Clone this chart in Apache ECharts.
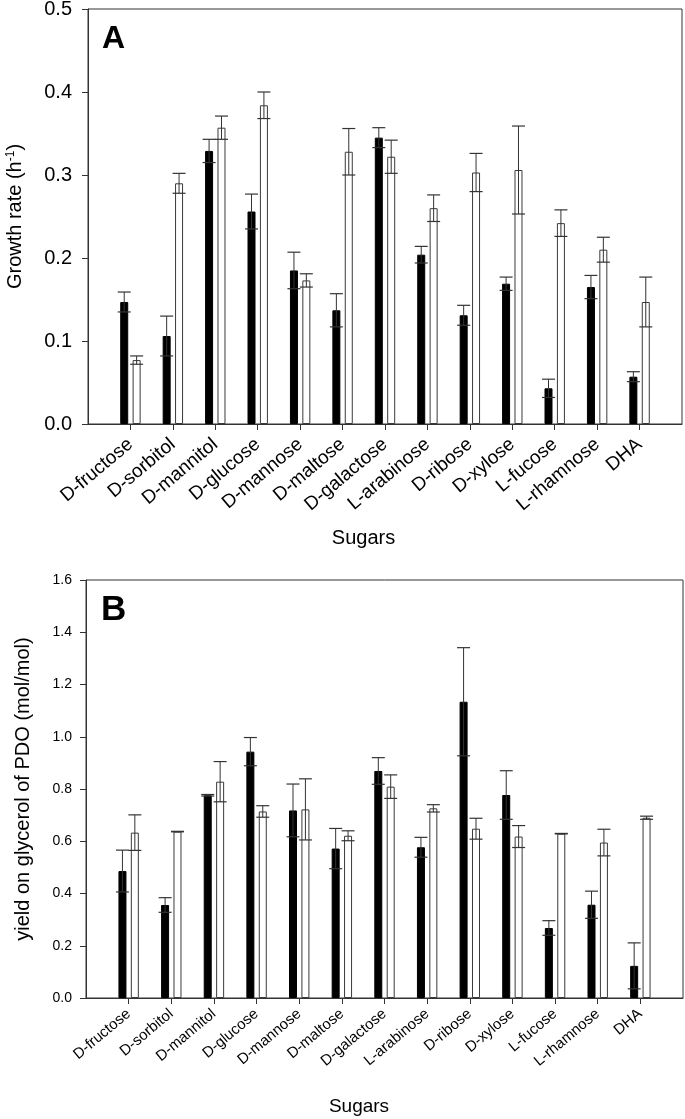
<!DOCTYPE html>
<html><head><meta charset="utf-8">
<script src="https://cdn.jsdelivr.net/npm/echarts@6/dist/echarts.min.js"></script>
<style>html,body{margin:0;padding:0;background:#fff}#c{width:685px;height:1119px}</style>
</head><body><div id="c"></div>
<script>
// ---- data ----
const categories = ['D-fructose','D-sorbitol','D-mannitol','D-glucose','D-mannose','D-maltose','D-galactose','L-arabinose','D-ribose','D-xylose','L-fucose','L-rhamnose','DHA'];

const growthBlack    = [0.147, 0.106, 0.329, 0.256, 0.185, 0.137, 0.345, 0.204, 0.131, 0.169, 0.043, 0.165, 0.057];
const growthBlackErr = [0.012, 0.024, 0.014, 0.021, 0.022, 0.020, 0.012, 0.010, 0.012, 0.008, 0.011, 0.014, 0.006];
const growthWhite    = [0.077, 0.290, 0.357, 0.384, 0.173, 0.328, 0.322, 0.260, 0.303, 0.306, 0.242, 0.210, 0.147];
const growthWhiteErr = [0.005, 0.012, 0.014, 0.016, 0.008, 0.028, 0.020, 0.016, 0.023, 0.053, 0.016, 0.015, 0.030];

const yieldBlack     = [0.486, 0.356, 0.776, 0.943, 0.718, 0.572, 0.869, 0.577, 1.134, 0.777, 0.268, 0.357, 0.123];
const yieldBlackErr  = [0.080, 0.028, 0.003, 0.054, 0.101, 0.077, 0.051, 0.038, 0.207, 0.093, 0.028, 0.052, 0.088];
const yieldWhite     = [0.633, 0.637, 0.828, 0.714, 0.722, 0.621, 0.809, 0.726, 0.648, 0.618, 0.629, 0.595, 0.690];
const yieldWhiteErr  = [0.068, 0.001, 0.077, 0.022, 0.117, 0.019, 0.045, 0.014, 0.040, 0.042, 0.001, 0.051, 0.006];

const growthTicks = {min: 0, max: 0.5, interval: 0.1};
const yieldTicks  = {min: 0, max: 1.6, interval: 0.2};

// ---- styling ----
const FONT = '"Liberation Sans", Arial, Helvetica, sans-serif';
const LINE = '#333';
const BAR_W = 8, BAR_GAP = 0.55;
const OFFSET = (BAR_W + BAR_W * BAR_GAP) / 2;
const CAP = 6.5;

const axisCats = [''].concat(categories, ['']);
const last = axisCats.length - 1;

function pairs(vals){ return vals.map((v, i) => [i + 1, v]); }
function errData(vals, errs){ return vals.map((v, i) => [i + 1, v - errs[i], v + errs[i]]); }

function barSeries(xi, vals, fill){
  return {
    type: 'bar', xAxisIndex: xi, yAxisIndex: xi, data: pairs(vals),
    barWidth: BAR_W, barGap: (BAR_GAP * 100) + '%', silent: true, z: 2,
    itemStyle: {color: fill, borderColor: fill === '#fff' ? '#3a3a3a' : '#000', borderWidth: 1}
  };
}
function errSeries(xi, vals, errs, side){
  return {
    type: 'custom', xAxisIndex: xi, yAxisIndex: xi, z: 5, silent: true,
    data: errData(vals, errs),
    encode: {x: 0, y: [1, 2]},
    renderItem: function(params, api){
      const lo = api.coord([api.value(0), api.value(1)]);
      const hi = api.coord([api.value(0), api.value(2)]);
      const x = lo[0] + side * OFFSET;
      const st = {stroke: LINE, lineWidth: 1.2};
      return {type: 'group', children: [
        {type: 'line', shape: {x1: x, y1: lo[1], x2: x, y2: hi[1]}, style: {stroke: LINE, lineWidth: 1}},
        {type: 'line', shape: {x1: x - CAP, y1: hi[1], x2: x + CAP, y2: hi[1]}, style: st},
        {type: 'line', shape: {x1: x - CAP, y1: lo[1], x2: x + CAP, y2: lo[1]}, style: st}
      ]};
    }
  };
}
function xAxis(gi, fs, rot, margin, nameGap, nameFs, shiftPad){
  return {
    type: 'category', gridIndex: gi, data: axisCats, boundaryGap: false,
    axisLine: {lineStyle: {color: LINE, width: 1}},
    axisTick: {interval: (i) => i > 0 && i < last, length: 6, lineStyle: {color: LINE}},
    axisLabel: {interval: 0, rotate: rot, fontSize: fs, color: '#000', margin: margin, fontFamily: FONT},
    splitLine: {show: false},
    name: 'Sugars', nameLocation: 'middle', nameGap: nameGap,
    nameTextStyle: {fontSize: nameFs, color: '#000', fontFamily: FONT, padding: [0, shiftPad, 0, 0]}
  };
}
function yAxis(gi, ticks, fs, margin, name, nameGap, nameFs, rich){
  return {
    type: 'value', gridIndex: gi, min: ticks.min, max: ticks.max, interval: ticks.interval,
    axisLine: {show: true, lineStyle: {color: LINE, width: 1}},
    axisTick: {show: true, length: 6, lineStyle: {color: LINE}},
    axisLabel: {fontSize: fs, color: '#000', margin: margin, fontFamily: FONT, formatter: v => v.toFixed(1)},
    splitLine: {show: false},
    name: name, nameLocation: 'middle', nameGap: nameGap,
    nameTextStyle: {fontSize: nameFs, color: '#000', fontFamily: FONT, rich: rich}
  };
}

const chart = echarts.init(document.getElementById('c'), null, {renderer: 'canvas'});
chart.setOption({
  backgroundColor: '#fff',
  animation: false,
  grid: [
    {left: 88, top: 9, width: 594, height: 415, show: true, borderColor: LINE, borderWidth: 1, outerBoundsMode: 'none'},
    {left: 86, top: 580, width: 597, height: 418, show: true, borderColor: LINE, borderWidth: 1, outerBoundsMode: 'none'}
  ],
  xAxis: [
    xAxis(0, 19, 40, 18, 104, 20, 43),
    xAxis(1, 15, 40, 14, 99, 19, 51)
  ],
  yAxis: [
    yAxis(0, growthTicks, 20, 16, 'Growth rate (h{sup|-1})', 63, 20,
      {sup: {fontSize: 12, fontFamily: FONT, color: '#000', verticalAlign: 'top', padding: [0, 0, 8, 0]}}),
    yAxis(1, yieldTicks, 14, 14, 'yield on glycerol of PDO (mol/mol)', 53, 20, {})
  ],
  graphic: [
    {type: 'text', left: 102, top: 23, style: {text: 'A', font: 'bold 32px ' + FONT, fill: '#000'}},
    {type: 'text', left: 101, top: 593, style: {text: 'B', font: 'bold 35px ' + FONT, fill: '#000'}}
  ],
  series: [
    barSeries(0, growthBlack, '#000'),
    barSeries(0, growthWhite, '#fff'),
    errSeries(0, growthBlack, growthBlackErr, -1),
    errSeries(0, growthWhite, growthWhiteErr, 1),
    barSeries(1, yieldBlack, '#000'),
    barSeries(1, yieldWhite, '#fff'),
    errSeries(1, yieldBlack, yieldBlackErr, -1),
    errSeries(1, yieldWhite, yieldWhiteErr, 1)
  ]
});
</script></body></html>
